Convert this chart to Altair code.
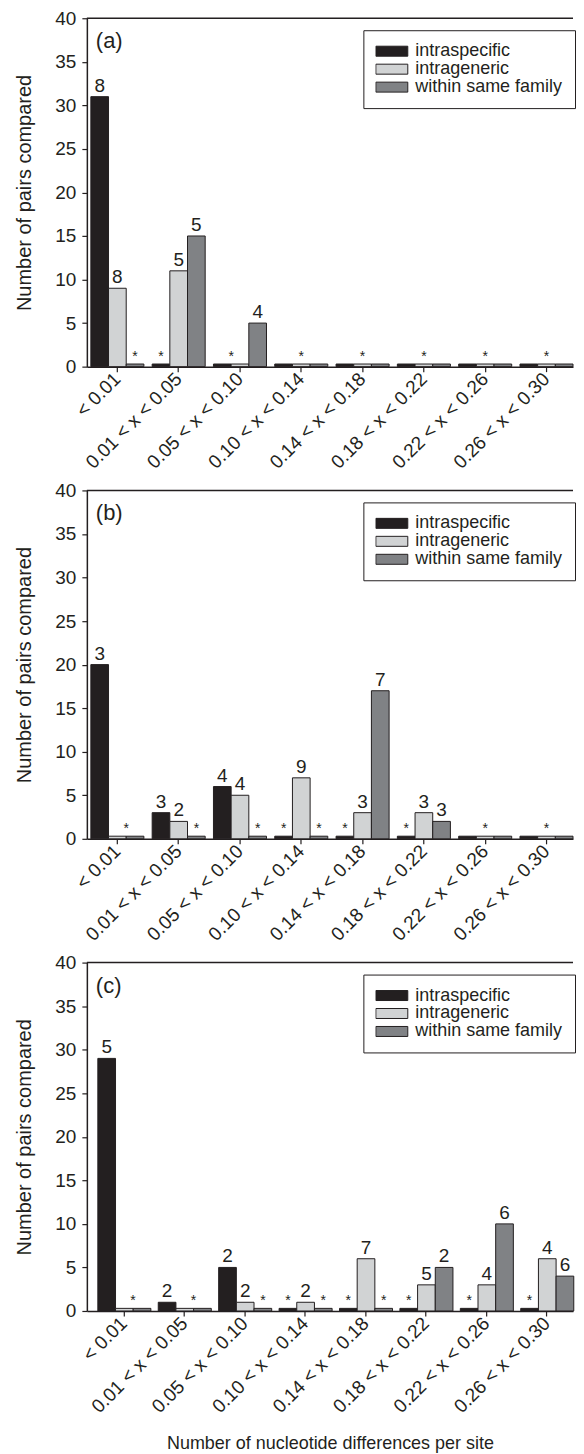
import altair as alt
import pandas as pd

FONT = "Liberation Sans"
INK = "#231f20"

categories = ["< 0.01", "0.01 < x < 0.05", "0.05 < x < 0.10", "0.10 < x < 0.14",
              "0.14 < x < 0.18", "0.18 < x < 0.22", "0.22 < x < 0.26", "0.26 < x < 0.30"]
series = ["intraspecific", "intrageneric", "within same family"]
series_colors = ["#231f20", "#d1d3d4", "#808285"]

# ---- panel (a)
a_intraspecific = [31, 0, 0, 0, 0, 0, 0, 0]
a_intrageneric = [9, 11, 0, 0, 0, 0, 0, 0]
a_family = [0, 15, 5, 0, 0, 0, 0, 0]
a_lab_intraspecific = ["8", "", "", "", "", "", "", ""]
a_lab_intrageneric = ["8", "5", "", "", "", "", "", ""]
a_lab_family = ["", "5", "4", "", "", "", "", ""]
a_star_group = [0, 1, 2, 3, 4, 5, 6, 7]
a_star_slot = [2, 0, 0.5, 1, 1, 1, 1, 1]

# ---- panel (b)
b_intraspecific = [20, 3, 6, 0, 0, 0, 0, 0]
b_intrageneric = [0, 2, 5, 7, 3, 3, 0, 0]
b_family = [0, 0, 0, 0, 17, 2, 0, 0]
b_lab_intraspecific = ["3", "3", "4", "", "", "", "", ""]
b_lab_intrageneric = ["", "2", "4", "9", "3", "3", "", ""]
b_lab_family = ["", "", "", "", "7", "3", "", ""]
b_star_group = [0, 1, 2, 3, 3, 4, 5, 6, 7]
b_star_slot = [1.5, 2, 2, 0, 2, 0, 0, 1, 1]

# ---- panel (c)
c_intraspecific = [29, 1, 5, 0, 0, 0, 0, 0]
c_intrageneric = [0, 0, 1, 1, 6, 3, 3, 6]
c_family = [0, 0, 0, 0, 0, 5, 10, 4]
c_lab_intraspecific = ["5", "2", "2", "", "", "", "", ""]
c_lab_intrageneric = ["", "", "2", "2", "7", "5", "4", "4"]
c_lab_family = ["", "", "", "", "", "2", "6", "6"]
c_star_group = [0, 1, 2, 3, 3, 4, 4, 5, 6, 7]
c_star_slot = [1.5, 1.5, 2, 0, 2, 0, 2, 0, 0, 0]

W, H = 487, 349
PI = 0.135


def bars_df(v1, v2, v3, l1, l2, l3):
    rows = []
    for vals, labs, s in ((v1, l1, series[0]), (v2, l2, series[1]), (v3, l3, series[2])):
        for c, v, lab in zip(categories, vals, labs):
            rows.append({"cat": c, "series": s, "value": v, "label": lab})
    return pd.DataFrame(rows)


def stars_df(groups, slots):
    rows = []
    for g, sl in zip(groups, slots):
        rows.append({"cat": categories[g], "series": series[int(sl)],
                     "half": sl != int(sl), "value": 0, "label": "*"})
    return pd.DataFrame(rows)


def panel(letter, vals, labs, sgroups, sslots, left_space, last=False):
    step = (W - left_space) / (len(categories) - PI)
    po = left_space / 2 / step
    bar_w = step * (1 - PI) / 3

    xaxis = alt.Axis(
        labelAngle=-45, labelAlign="right", labelBaseline="middle",
        labelFont=FONT, labelFontSize=19, labelColor=INK, labelPadding=4,
        labelOverlap=False, labelLimit=300,
        tickSize=5, tickColor=INK, tickWidth=1.2,
        domainColor=INK, domainWidth=1.5,
        title="Number of nucleotide differences per site" if last else None,
        titleFont=FONT, titleFontSize=18, titleFontWeight="normal", titleColor=INK,
        titlePadding=18,
    )
    X = alt.X("cat:N", sort=categories,
              scale=alt.Scale(domain=categories, paddingInner=PI, paddingOuter=po, align=1),
              axis=xaxis)
    XO = alt.XOffset("series:N", sort=series,
                     scale=alt.Scale(domain=series, paddingInner=0, paddingOuter=0))
    Y = alt.Y("shown:Q", scale=alt.Scale(domain=[0, 40], nice=False, zero=True),
              axis=alt.Axis(values=list(range(0, 41, 5)), grid=False,
                            title="Number of pairs compared",
                            titleFont=FONT, titleFontSize=20, titleFontWeight="normal",
                            titleColor=INK, titlePadding=20,
                            labelFont=FONT, labelFontSize=19, labelColor=INK, labelPadding=6,
                            tickSize=5, tickColor=INK, tickWidth=1.2,
                            domainColor=INK, domainWidth=1.5))

    bdf = bars_df(*vals, *labs)
    sdf = stars_df(sgroups, sslots)
    calc = {"shown": "max(datum.value, 0.3)"}

    bars = alt.Chart(bdf).transform_calculate(**calc).mark_bar(
        stroke=INK, strokeWidth=1).encode(
        x=X, xOffset=XO, y=Y,
        color=alt.Color("series:N", sort=series,
                        scale=alt.Scale(domain=series, range=series_colors),
                        legend=alt.Legend(
                            title=None, orient="none", legendX=277, legendY=12,
                            symbolType="M-1,-0.3125H1V0.3125H-1Z", symbolSize=1024,
                            symbolStrokeColor=INK, symbolStrokeWidth=1,
                            symbolOpacity=1, clipHeight=18, rowPadding=0,
                            labelFont=FONT, labelFontSize=18, labelColor=INK,
                            labelOffset=7, padding=12,
                            fillColor="white", strokeColor=INK)),
    )
    labels = alt.Chart(bdf).transform_calculate(**calc).transform_filter(
        "datum.label != ''").mark_text(
        baseline="alphabetic", dy=-5, font=FONT, fontSize=19, color=INK).encode(
        x=X, xOffset=XO, y=Y, text="label:N")
    stars_c = alt.Chart(sdf[~sdf["half"]]).transform_calculate(**calc).mark_text(
        baseline="alphabetic", dy=-3, font=FONT, fontSize=14, color=INK).encode(
        x=X, xOffset=XO, y=Y, text="label:N")
    layers = [bars, labels, stars_c]
    if sdf["half"].any():
        stars_h = alt.Chart(sdf[sdf["half"]]).transform_calculate(**calc).mark_text(
            baseline="alphabetic", dy=-3, dx=bar_w / 2, font=FONT, fontSize=14,
            color=INK).encode(x=X, xOffset=XO, y=Y, text="label:N")
        layers.append(stars_h)
    top = alt.Chart(pd.DataFrame({"k": [1]})).mark_rule(
        color=INK, strokeWidth=1.5).encode(y=alt.datum(40))
    tag = alt.Chart(pd.DataFrame({"t": [letter]})).mark_text(
        align="left", baseline="alphabetic", font=FONT, fontSize=22, color=INK).encode(
        text="t:N", x=alt.value(9), y=alt.value(30))
    layers += [top, tag]
    return alt.layer(*layers).properties(width=W, height=H)


pa = panel("(a)", (a_intraspecific, a_intrageneric, a_family),
           (a_lab_intraspecific, a_lab_intrageneric, a_lab_family),
           a_star_group, a_star_slot, 4)
pb = panel("(b)", (b_intraspecific, b_intrageneric, b_family),
           (b_lab_intraspecific, b_lab_intrageneric, b_lab_family),
           b_star_group, b_star_slot, 4)
pc = panel("(c)", (c_intraspecific, c_intrageneric, c_family),
           (c_lab_intraspecific, c_lab_intrageneric, c_lab_family),
           c_star_group, c_star_slot, 11, last=True)

chart = alt.vconcat(pa, pb, pc, spacing=124, bounds="flush").resolve_legend(
    color="independent").resolve_scale(color="independent", x="independent").properties(
    padding={"left": 6, "top": 0, "right": 0, "bottom": 0}
).configure_view(stroke=None)

chart.save("out.html", embed_options={"renderer": "svg", "actions": False})
